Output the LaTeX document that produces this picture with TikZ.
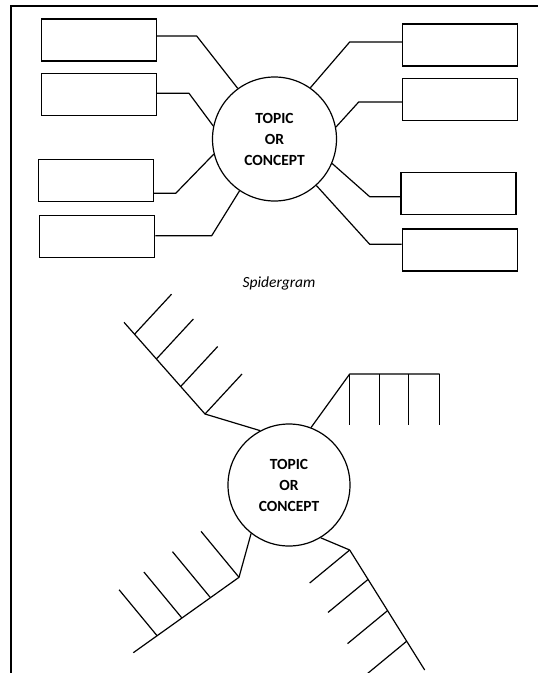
\documentclass[tikz,border=0pt]{standalone}
\usepackage{fontspec}
\setmainfont{Carlito}
\usetikzlibrary{calc}
\begin{document}
\begin{tikzpicture}[x=1pt,y=-1pt,
  box/.style={draw,line width=1.3pt,minimum width=115pt,minimum height=42pt,inner sep=0pt},
  topic/.style={draw,circle,line width=1.2pt,inner sep=0pt,font=\bfseries\fontsize{15.5}{21}\selectfont,align=center},
  conn/.style={line width=1.2pt,line join=round},
  frame/.style={line width=2.2pt}]
\useasboundingbox (0,0) rectangle (538,673);
% frame
\draw[frame] (11,673) -- (11,6) -- (538,6);
% ---------- spidergram ----------
\node[topic,minimum size=124pt] (c1) at (274.5,139) {TOPIC\\OR\\CONCEPT};
\node[box] (b1) at (98.8,39.9) {};
\node[box] (b2) at (98.8,94.5) {};
\node[box] (b3) at (95.8,180.8) {};
\node[box] (b4) at (97.2,236.7) {};
\node[box] (b5) at (460.2,45) {};
\node[box] (b6) at (460.2,99.7) {};
\node[box] (b7) at (458.5,193.8) {};
\node[box] (b8) at (459.7,250) {};
\coordinate (k1) at (196.7,36);
\coordinate (k2) at (189,93.3);
\coordinate (k3) at (175.7,193.3);
\coordinate (k4) at (211.7,235.7);
\coordinate (k5) at (349.7,42);
\coordinate (k6) at (358.7,102);
\coordinate (k7) at (369.7,196.7);
\coordinate (k8) at (369.7,244.3);
\draw[conn] (k1 -| b1.east) -- (k1) -- (c1.126.7);
\draw[conn] (k2 -| b2.east) -- (k2) -- (c1.168.1);
\draw[conn] (k3 -| b3.east) -- (k3) -- (c1.194.7);
\draw[conn] (k4 -| b4.east) -- (k4) -- (c1.236.3);
\draw[conn] (k5 -| b5.west) -- (k5) -- (c1.55.2);
\draw[conn] (k6 -| b6.west) -- (k6) -- (c1.11.9);
\draw[conn] (k7 -| b7.west) -- (k7) -- (c1.337.4);
\draw[conn] (k8 -| b8.west) -- (k8) -- (c1.312.8);
\node[font=\itshape\fontsize{15.5}{18}\selectfont] (cap) at (279,283) {Spidergram};
% ---------- fishbone ----------
\node[topic,minimum size=122pt] (c2) at (289,485) {TOPIC\\OR\\CONCEPT};
% upper left
\coordinate (j1) at (205,414);
\coordinate (e1) at (124,322.3);
\draw[conn] (c2.118.6) -- (j1) -- (e1);
\foreach \p in {0.13,0.40,0.70,1.0}
  \draw[conn] ($(e1)!\p!(j1)$) -- ++(37,-40);
% upper right
\coordinate (j2) at (349.7,374);
\coordinate (e2) at (439.7,374);
\draw[conn] (c2.69.6) -- (j2) -- (e2);
\foreach \p in {0,0.333,0.655,1}
  \draw[conn] ($(j2)!\p!(e2)$) -- ++(0,51);
% lower left
\coordinate (j3) at (239,577.3);
\coordinate (e3) at (133.3,652.7);
\draw[conn] (c2.232) -- (j3) -- (e3);
\foreach \p in {0,0.27,0.54,0.775}
  \draw[conn] ($(j3)!\p!(e3)$) -- ++(-38,-46);
% lower right
\coordinate (j4) at (349.7,550);
\coordinate (e4) at (424.7,670);
\draw[conn] (c2.301.2) -- (j4) -- (e4);
\foreach \p in {0,0.245,0.505,0.76}
  \draw[conn] ($(j4)!\p!(e4)$) -- ++(-40,33);
\end{tikzpicture}
\end{document}
